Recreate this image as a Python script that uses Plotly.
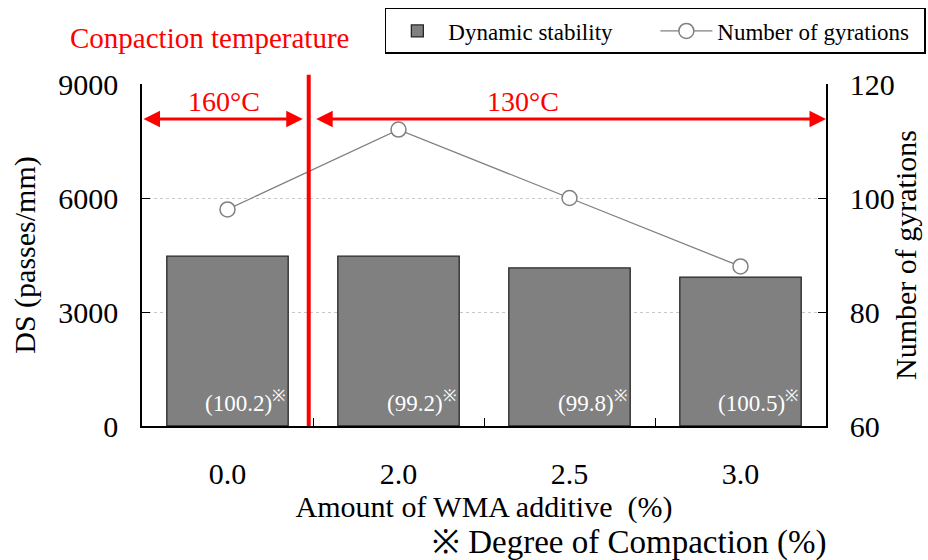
import plotly.graph_objects as go

categories = ["0.0", "2.0", "2.5", "3.0"]
ds_values = [4470, 4470, 4160, 3920]
gyrations = [98, 112, 100, 88]
compaction = ["100.2", "99.2", "99.8", "100.5"]
y1_ticks = [0, 3000, 6000, 9000]
y2_ticks = [60, 80, 100, 120]

FONT = "Liberation Serif"
RED = "#ff0000"

fig = go.Figure()
fig.add_trace(go.Bar(
    x=categories, y=ds_values, name="Dynamic stability",
    marker=dict(color="#808080", line=dict(color="#262626", width=1.3)),
    yaxis="y",
))
fig.add_trace(go.Scatter(
    x=categories, y=gyrations, name="Number of gyrations",
    mode="lines+markers",
    line=dict(color="#808080", width=1.3),
    marker=dict(symbol="circle", size=15, color="white",
                line=dict(color="#808080", width=1.5)),
    yaxis="y2",
))

# compaction labels inside bars
for i, c in enumerate(compaction):
    fig.add_annotation(
        x=i + 0.35, y=0, xref="x", yref="y",
        text=f"({c})<sup>※</sup>", showarrow=False,
        xanchor="right", yanchor="bottom", yshift=8,
        font=dict(family=FONT, size=23, color="white"),
    )

# vertical red separator
fig.add_shape(type="line", xref="x", yref="paper", x0=0.475, x1=0.475,
              y0=0, y1=1.027, line=dict(color=RED, width=4))

arrow_y = 8080
fig.add_annotation(x=0.44, y=arrow_y, ax=-0.5, ay=arrow_y, xref="x", yref="y",
                   axref="x", ayref="y", text="", showarrow=True,
                   arrowhead=2, arrowside="end+start", arrowsize=1.1,
                   arrowwidth=3, arrowcolor=RED)
fig.add_annotation(x=3.5, y=arrow_y, ax=0.51, ay=arrow_y, xref="x", yref="y",
                   axref="x", ayref="y", text="", showarrow=True,
                   arrowhead=2, arrowside="end+start", arrowsize=1.1,
                   arrowwidth=3, arrowcolor=RED)
fig.add_annotation(x=-0.02, y=arrow_y, xref="x", yref="y", text="160°C",
                   showarrow=False, yanchor="bottom", yshift=0,
                   font=dict(family=FONT, size=28, color=RED))
fig.add_annotation(x=1.73, y=arrow_y, xref="x", yref="y", text="130°C",
                   showarrow=False, yanchor="bottom", yshift=0,
                   font=dict(family=FONT, size=28, color=RED))

fig.add_annotation(x=-0.108, y=1.134, xref="paper", yref="paper",
                   text="Conpaction temperature", showarrow=False,
                   xanchor="left", yanchor="middle",
                   font=dict(family=FONT, size=29, color=RED))

fig.add_annotation(x=1.005, y=-0.342, xref="paper", yref="paper",
                   text="※ Degree of Compaction (%)", showarrow=False,
                   xanchor="right", yanchor="middle",
                   font=dict(family=FONT, size=33, color="black"))

# right axis title
fig.add_annotation(x=1.1155, y=0.5, xref="paper", yref="paper",
                   text="Number of gyrations", showarrow=False, textangle=-90,
                   xanchor="center", yanchor="middle",
                   font=dict(family=FONT, size=30, color="black"))

fig.update_layout(
    width=928, height=560,
    margin=dict(l=142, r=102, t=84, b=134, autoexpand=False),
    paper_bgcolor="white", plot_bgcolor="white",
    font=dict(family=FONT, size=28, color="black"),
    bargap=0.29,
    showlegend=True,
    legend=dict(orientation="h", x=1.146, y=1.155, xanchor="right", yanchor="middle",
                bordercolor="black", borderwidth=1.5,
                font=dict(family=FONT, size=23, color="black"), bgcolor="white",
                itemwidth=52, entrywidth=202),
    xaxis=dict(
        range=[-0.5, 3.5], showline=True, linecolor="black", linewidth=1.5,
        ticks="inside", ticklen=8, tickcolor="black", tickson="boundaries",
        showgrid=False, tickfont=dict(size=30, color="black"),
        ticklabelstandoff=20,
        title=dict(text="Amount of WMA additive  (%)",
                   font=dict(size=30, color="black"), standoff=5),
    ),
    yaxis=dict(
        range=[0, 9000], tickvals=y1_ticks, showline=True, linecolor="black",
        linewidth=1.5, ticks="inside", ticklen=8, tickcolor="black",
        showgrid=True, gridcolor="#c8c8c8", griddash="dot", gridwidth=1,
        tickfont=dict(size=30, color="black"), ticklabelstandoff=16,
        title=dict(text="DS (passes/mm)", font=dict(size=30, color="black"),
                   standoff=14),
        zeroline=False,
    ),
    yaxis2=dict(
        range=[60, 120], tickvals=y2_ticks, overlaying="y", side="right",
        showline=True, linecolor="black", linewidth=1.5, ticks="inside",
        ticklen=8, tickcolor="black", showgrid=False,
        tickfont=dict(size=30, color="black"), ticklabelstandoff=16,
        zeroline=False,
    ),
)

fig.write_html("out.html")
